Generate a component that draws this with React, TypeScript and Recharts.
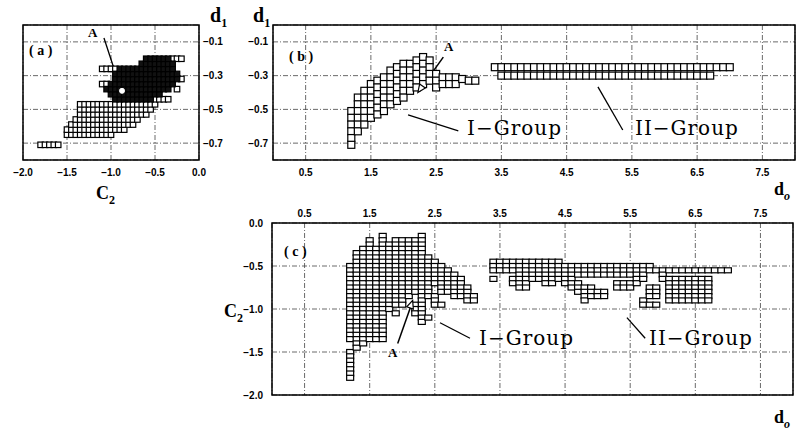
import React from 'react';
import { ScatterChart, Scatter, XAxis, YAxis, CartesianGrid, ReferenceArea, ReferenceLine, ReferenceDot } from 'recharts';

// ---------- Panel (a): C2 (x) vs d1 (y); rows [d1, C2 from, C2 to], C2 grid step 0.05
const A_C2_STEP = 0.05;
const aRowsOpen: number[][] = [
  [-0.71, -1.80, -1.60],
  [-0.65, -1.50, -1.00],
  [-0.62, -1.50, -0.85],
  [-0.59, -1.45, -0.75],
  [-0.56, -1.40, -0.70],
  [-0.53, -1.35, -0.60],
  [-0.50, -1.35, -0.55],
  [-0.47, -1.35, -0.50],
  [-0.26, -1.10, -0.95],
  [-0.35, -1.10, -1.05],
  [-0.44, -0.50, -0.35],
  [-0.20, -0.30, -0.20],
  [-0.32, -0.20, -0.20],
  [-0.38, -0.25, -0.25],
];
const aRowsDense: number[][] = [
  [-0.44, -0.95, -0.55],
  [-0.41, -1.00, -0.45],
  [-0.38, -1.05, -0.35],
  [-0.35, -1.00, -0.30],
  [-0.32, -0.95, -0.25],
  [-0.29, -0.95, -0.25],
  [-0.26, -0.90, -0.30],
  [-0.23, -0.65, -0.30],
  [-0.20, -0.60, -0.35],
];
const aXTicks = [-2.0, -1.5, -1.0, -0.5, 0.0];
const d1Ticks = [-0.1, -0.3, -0.5, -0.7];

// ---------- Panel (b): d_o (x) vs d1 (y)
// I-Group columns [d_o, d1 top, d1 bottom], d1 grid step 0.04
const B_D1_STEP = 0.04;
const bGroupI: number[][] = [
  [1.2, -0.51, -0.71],
  [1.3, -0.43, -0.63],
  [1.4, -0.39, -0.59],
  [1.5, -0.35, -0.55],
  [1.6, -0.33, -0.53],
  [1.7, -0.31, -0.51],
  [1.8, -0.27, -0.47],
  [1.9, -0.25, -0.45],
  [2.0, -0.23, -0.43],
  [2.1, -0.23, -0.39],
  [2.2, -0.21, -0.37],
  [2.3, -0.19, -0.35],
  [2.4, -0.21, -0.33],
  [2.5, -0.29, -0.37],
  [2.6, -0.31, -0.35],
  [2.7, -0.31, -0.35],
  [2.8, -0.31, -0.35],
  [2.9, -0.32, -0.32],
  [3.0, -0.33, -0.33],
  [3.1, -0.33, -0.33],
];
// II-Group rows [d1, d_o from, d_o to], d_o grid step 0.1
const DO_STEP = 0.1;
const bGroupII: number[][] = [
  [-0.25, 3.4, 7.0],
  [-0.30, 3.5, 6.7],
];
const doTicks = [0.5, 1.5, 2.5, 3.5, 4.5, 5.5, 6.5, 7.5];

// ---------- Panel (c): d_o (x) vs C2 (y); columns [d_o, C2 top, C2 bottom], C2 grid step 0.05
const C_C2_STEP = 0.05;
const cGroupI: number[][] = [
  [1.2, -0.50, -1.35], [1.2, -1.50, -1.80],
  [1.3, -0.35, -1.45],
  [1.4, -0.30, -1.40],
  [1.5, -0.20, -1.35],
  [1.6, -0.30, -1.35],
  [1.7, -0.15, -1.35],
  [1.8, -0.25, -1.00],
  [1.9, -0.20, -0.95], [1.9, -1.05, -1.05],
  [2.0, -0.20, -0.95],
  [2.1, -0.20, -0.85],
  [2.2, -0.20, -0.80], [2.2, -0.95, -1.05],
  [2.3, -0.15, -1.15],
  [2.4, -0.40, -0.85], [2.4, -1.10, -1.10],
  [2.5, -0.45, -0.70], [2.5, -0.85, -0.95],
  [2.6, -0.50, -0.80], [2.6, -0.95, -0.95],
  [2.7, -0.55, -0.80],
  [2.8, -0.60, -0.85],
  [2.9, -0.65, -0.85],
  [3.0, -0.75, -0.90],
  [3.1, -0.85, -0.90],
];
const cGroupII: number[][] = [
  [3.4, -0.45, -0.55], [3.4, -0.65, -0.65],
  [3.5, -0.45, -0.55],
  [3.6, -0.45, -0.55],
  [3.7, -0.45, -0.55], [3.7, -0.65, -0.70],
  [3.8, -0.45, -0.75],
  [3.9, -0.45, -0.75],
  [4.0, -0.45, -0.65],
  [4.1, -0.45, -0.65],
  [4.2, -0.45, -0.70],
  [4.3, -0.45, -0.70],
  [4.4, -0.45, -0.65],
  [4.5, -0.50, -0.70],
  [4.6, -0.50, -0.75],
  [4.7, -0.50, -0.60], [4.7, -0.70, -0.80],
  [4.8, -0.50, -0.60], [4.8, -0.75, -0.90],
  [4.9, -0.50, -0.60], [4.9, -0.75, -0.85],
  [5.0, -0.50, -0.60], [5.0, -0.80, -0.85],
  [5.1, -0.50, -0.60], [5.1, -0.80, -0.85],
  [5.2, -0.50, -0.60],
  [5.3, -0.50, -0.60], [5.3, -0.70, -0.75],
  [5.4, -0.50, -0.60], [5.4, -0.70, -0.75],
  [5.5, -0.50, -0.60], [5.5, -0.70, -0.75],
  [5.6, -0.50, -0.70],
  [5.7, -0.50, -0.65], [5.7, -0.90, -0.95],
  [5.8, -0.50, -0.55], [5.8, -0.75, -0.85], [5.8, -0.95, -0.95],
  [5.9, -0.55, -0.55], [5.9, -0.75, -0.85], [5.9, -0.95, -0.95],
  [6.0, -0.55, -0.65],
  [6.1, -0.55, -0.55], [6.1, -0.65, -0.90],
  [6.2, -0.55, -0.55], [6.2, -0.65, -0.90],
  [6.3, -0.55, -0.55], [6.3, -0.65, -0.90],
  [6.4, -0.55, -0.55], [6.4, -0.65, -0.90],
  [6.5, -0.55, -0.55], [6.5, -0.65, -0.90],
  [6.6, -0.55, -0.55], [6.6, -0.65, -0.90],
  [6.7, -0.55, -0.55], [6.7, -0.65, -0.90],
  [6.8, -0.55, -0.55],
  [6.9, -0.55, -0.55],
  [7.0, -0.55, -0.55],
];
const cYTicks = [0.0, -0.5, -1.0, -1.5, -2.0];

// ---------- helpers to turn grid rows/columns into points
const r3 = (v: number) => Math.round(v * 1000) / 1000;
function rowsToPoints(rows: number[][], step: number) {
  const pts: { x: number; y: number }[] = [];
  for (const [y, a, b] of rows) {
    const n = Math.round((b - a) / step);
    for (let i = 0; i <= n; i++) pts.push({ x: r3(a + i * step), y });
  }
  return pts;
}
function colsToPoints(cols: number[][], step: number) {
  const pts: { x: number; y: number }[] = [];
  for (const [x, top, bottom] of cols) {
    const n = Math.round((top - bottom) / step);
    for (let i = 0; i <= n; i++) pts.push({ x, y: r3(top - i * step) });
  }
  return pts;
}

const aOpenPts = rowsToPoints(aRowsOpen, A_C2_STEP);
const aDensePts = rowsToPoints(aRowsDense, A_C2_STEP);
const bIPts = colsToPoints(bGroupI, B_D1_STEP);
const bIIPts = rowsToPoints(bGroupII, DO_STEP);
const cIPts = colsToPoints(cGroupI, C_C2_STEP);
const cIIPts = colsToPoints(cGroupII, C_C2_STEP);

const fmt = (v: number) => (v < -1e-9 ? '\u2212' : '') + Math.abs(v).toFixed(1);
const tickStyle = { fontSize: 10, fontWeight: 700, fill: '#000', fontFamily: '"Liberation Sans", Arial, sans-serif' };
const gridProps = { stroke: '#444', strokeWidth: 0.8, strokeDasharray: '5 2 1 2' };

const sq = (w: number, h: number, fill: string) => (p: any) => (
  <rect x={p.cx - w / 2} y={p.cy - h / 2} width={w} height={h} fill={fill} stroke="#000" strokeWidth={1.2} />
);

const arrowHead = (dx: number, dy: number) => (p: any) => {
  const len = Math.hypot(dx, dy);
  const ux = dx / len, uy = dy / len;
  const L = 8, Wd = 3.5;
  const bx = p.cx - ux * L, by = p.cy - uy * L;
  const pts = `${p.cx},${p.cy} ${bx - uy * Wd},${by + ux * Wd} ${bx + uy * Wd},${by - ux * Wd}`;
  return <polygon points={pts} fill="#fff" stroke="#000" strokeWidth={1.2} />;
};

const W = 798, H = 432;
const abs: React.CSSProperties = { position: 'absolute', left: 0, top: 0 };

function Txt({ x, y, children, size = 14, family = '"Liberation Serif", serif', bold = true, spacing = 0 }: any) {
  return (
    <div style={{ position: 'absolute', left: x, top: y, fontSize: size, fontFamily: family, fontWeight: bold ? 700 : 400, lineHeight: 1, whiteSpace: 'pre', color: '#000', letterSpacing: spacing }}>
      {children}
    </div>
  );
}
const sub = (s: string, italic = false) => (
  <span style={{ fontSize: 12, verticalAlign: 'sub', fontStyle: italic ? 'italic' : 'normal' }}>{s}</span>
);
const groupFont = '"DejaVu Serif", serif';

export default function App() {
  return (
    <div style={{ position: 'absolute', left: 0, top: 0, width: W, height: H, background: '#fff', overflow: 'hidden' }}>
      {/* Panel (a) */}
      <div style={abs}>
        <ScatterChart width={W} height={H} margin={{ top: 25, left: 23, right: 569, bottom: 252 }}>
          <CartesianGrid {...gridProps} />
          <XAxis type="number" dataKey="x" domain={[-2, 0]} ticks={aXTicks} tickFormatter={fmt} height={20}
            axisLine={false} tickLine={false} tickSize={0} tickMargin={9} tick={tickStyle} allowDataOverflow />
          <YAxis type="number" dataKey="y" orientation="right" domain={[-0.8, 0]} ticks={d1Ticks} tickFormatter={fmt} width={30}
            axisLine={false} tickLine={false} tickSize={0} tickMargin={4} tick={{ ...tickStyle, textAnchor: 'start' }} allowDataOverflow />
          <Scatter data={aOpenPts} shape={sq(5.5, 5.5, '#fff')} isAnimationActive={false} />
          <Scatter data={aDensePts} shape={sq(5.5, 5.5, '#111')} isAnimationActive={false} />
          <ReferenceLine segment={[{ x: -1.08, y: -0.077 }, { x: -0.886, y: -0.385 }]} stroke="#000" strokeWidth={1.3} />
          <ReferenceDot x={-0.875} y={-0.39} r={2.5} fill="#fff" stroke="#fff" />
          <ReferenceArea x1={-2} x2={0} y1={-0.8} y2={0} fill="none" stroke="#000" strokeWidth={1.5} />
        </ScatterChart>
      </div>

      {/* Panel (b) */}
      <div style={abs}>
        <ScatterChart width={W} height={H} margin={{ top: 25, left: 243, right: 3, bottom: 252 }}>
          <CartesianGrid {...gridProps} />
          <XAxis type="number" dataKey="x" domain={[0, 8]} ticks={doTicks} tickFormatter={fmt} height={20}
            axisLine={false} tickLine={false} tickSize={0} tickMargin={9} tick={tickStyle} allowDataOverflow />
          <YAxis type="number" dataKey="y" domain={[-0.8, 0]} ticks={d1Ticks} tickFormatter={fmt} width={30}
            axisLine={false} tickLine={false} tickSize={0} tickMargin={5} tick={tickStyle} allowDataOverflow />
          <Scatter data={bIPts} shape={sq(7, 7, '#fff')} isAnimationActive={false} />
          <Scatter data={bIIPts} shape={sq(7, 7, '#fff')} isAnimationActive={false} />
          <ReferenceLine segment={[{ x: 2.61, y: -0.19 }, { x: 2.24, y: -0.39 }]} stroke="#000" strokeWidth={1.5} />
          <ReferenceDot x={2.22} y={-0.40} r={1} shape={arrowHead(-25, 35)} />
          <ReferenceLine segment={[{ x: 2.07, y: -0.533 }, { x: 2.84, y: -0.628 }]} stroke="#000" strokeWidth={1.3} />
          <ReferenceLine segment={[{ x: 4.98, y: -0.367 }, { x: 5.36, y: -0.622 }]} stroke="#000" strokeWidth={1.3} />
          <ReferenceArea x1={0} x2={8} y1={-0.8} y2={0} fill="none" stroke="#000" strokeWidth={1.5} />
        </ScatterChart>
      </div>

      {/* Panel (c) */}
      <div style={abs}>
        <ScatterChart width={W} height={H} margin={{ top: 203, left: 242, right: 5, bottom: 37 }}>
          <CartesianGrid {...gridProps} />
          <XAxis type="number" dataKey="x" orientation="top" domain={[0, 8]} ticks={doTicks} tickFormatter={fmt} height={20}
            axisLine={false} tickLine={false} tickSize={0} tickMargin={6} tick={tickStyle} allowDataOverflow />
          <YAxis type="number" dataKey="y" domain={[-2, 0]} ticks={cYTicks} tickFormatter={fmt} width={30}
            axisLine={false} tickLine={false} tickSize={0} tickMargin={9} tick={tickStyle} allowDataOverflow />
          <Scatter data={cIPts} shape={sq(7, 5, '#fff')} isAnimationActive={false} />
          <Scatter data={cIIPts} shape={sq(7, 5, '#fff')} isAnimationActive={false} />
          <ReferenceLine segment={[{ x: 1.93, y: -1.40 }, { x: 2.14, y: -0.95 }]} stroke="#000" strokeWidth={1.5} />
          <ReferenceDot x={2.16} y={-0.90} r={1} shape={arrowHead(15, -43)} />
          <ReferenceLine segment={[{ x: 2.58, y: -1.16 }, { x: 3.04, y: -1.34 }]} stroke="#000" strokeWidth={1.3} />
          <ReferenceLine segment={[{ x: 5.45, y: -1.10 }, { x: 5.73, y: -1.34 }]} stroke="#000" strokeWidth={1.3} />
          <ReferenceArea x1={0} x2={8} y1={-2} y2={0} fill="none" stroke="#000" strokeWidth={1.5} />
        </ScatterChart>
      </div>

      {/* annotations and axis titles */}
      <Txt x={29} y={44} size={14}>( a )</Txt>
      <Txt x={289} y={50} size={14}>( b )</Txt>
      <Txt x={284} y={245} size={14}>( c )</Txt>
      <Txt x={88} y={26} size={13}>A</Txt>
      <Txt x={444} y={40} size={13}>A</Txt>
      <Txt x={388} y={346} size={13}>A</Txt>
      <Txt x={467} y={118} size={20} bold={false} family={groupFont} spacing={1}>I{'\u2212'}Group</Txt>
      <Txt x={635} y={118} size={20} bold={false} family={groupFont} spacing={1}>II{'\u2212'}Group</Txt>
      <Txt x={479} y={328} size={20} bold={false} family={groupFont} spacing={1}>I{'\u2212'}Group</Txt>
      <Txt x={649} y={328} size={20} bold={false} family={groupFont} spacing={1}>II{'\u2212'}Group</Txt>
      <Txt x={210} y={5} size={20}>d{sub('1')}</Txt>
      <Txt x={253} y={5} size={20}>d{sub('1')}</Txt>
      <Txt x={96} y={184} size={18}>C{sub('2')}</Txt>
      <Txt x={774} y={180} size={18}>d{sub('o', true)}</Txt>
      <Txt x={224} y={302} size={18}>C{sub('2')}</Txt>
      <Txt x={774} y={408} size={18}>d{sub('o', true)}</Txt>
    </div>
  );
}
